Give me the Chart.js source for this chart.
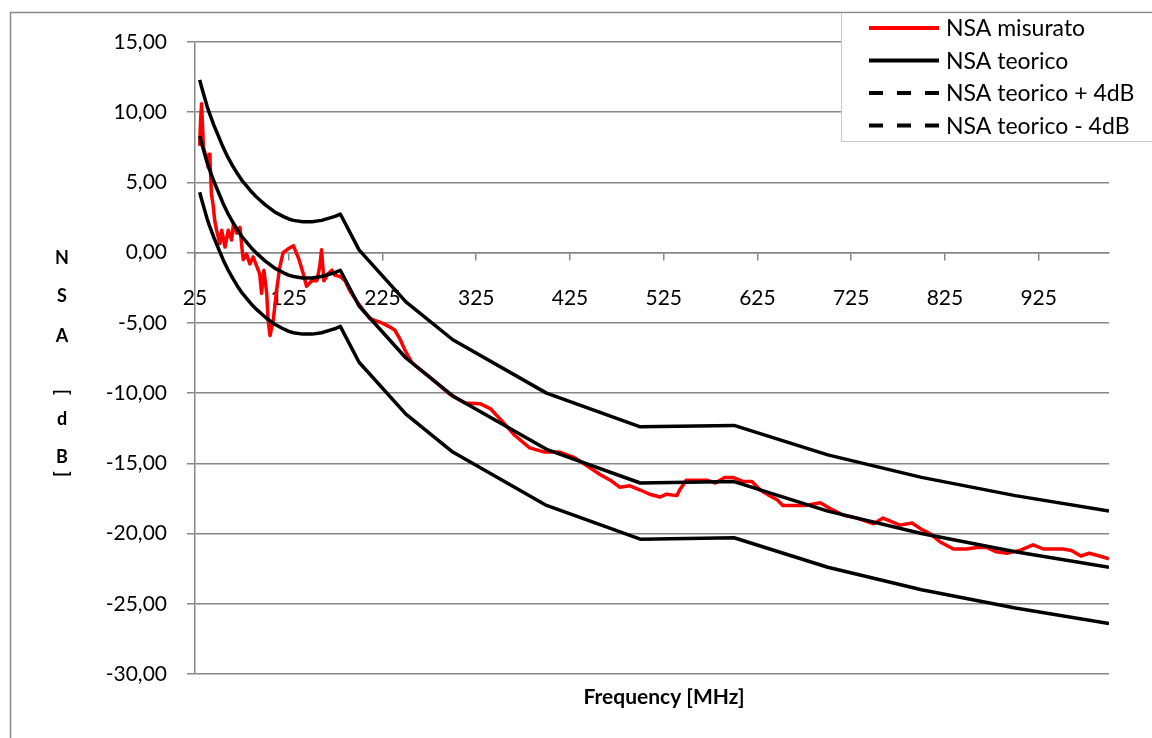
<!DOCTYPE html>
<html>
<head>
<meta charset="utf-8">
<script src="https://cdn.jsdelivr.net/npm/chart.js@4.4.1/dist/chart.umd.min.js"></script>
<style>
body { margin: 0; background: #fff; }
#wrap { width: 1152px; height: 738px; position: relative; }
</style>
</head>
<body>
<div id="wrap"><canvas id="nsa_chart"></canvas></div>
<script>
// frequenze [MHz] della curva teorica
var freq_teorico = [30, 32, 35, 38, 40, 45, 50, 55, 60, 65, 70, 75, 80, 85, 90, 95, 100, 110, 120, 125, 130, 140, 150, 160, 170, 175, 180, 200, 250, 300, 400, 500, 600, 700, 800, 900, 1000];
var nsa_teorico = [8.3, 7.8, 7.1, 6.4, 6.0, 5.1, 4.3, 3.5, 2.8, 2.2, 1.65, 1.15, 0.75, 0.35, 0.0, -0.3, -0.6, -1.1, -1.45, -1.6, -1.7, -1.8, -1.8, -1.7, -1.5, -1.4, -1.25, -3.8, -7.5, -10.2, -14.0, -16.4, -16.3, -18.4, -20.0, -21.3, -22.4];
var nsa_piu4 = [12.3, 11.8, 11.1, 10.4, 10.0, 9.1, 8.3, 7.5, 6.8, 6.2, 5.65, 5.15, 4.75, 4.35, 4.0, 3.7, 3.4, 2.9, 2.55, 2.4, 2.3, 2.2, 2.2, 2.3, 2.5, 2.6, 2.75, 0.2, -3.5, -6.2, -10.0, -12.4, -12.3, -14.4, -16.0, -17.3, -18.4];
var nsa_meno4 = [4.3, 3.8, 3.1, 2.4, 2.0, 1.1, 0.3, -0.5, -1.2, -1.8, -2.35, -2.85, -3.25, -3.65, -4.0, -4.3, -4.6, -5.1, -5.45, -5.6, -5.7, -5.8, -5.8, -5.7, -5.5, -5.4, -5.25, -7.8, -11.5, -14.2, -18.0, -20.4, -20.3, -22.4, -24.0, -25.3, -26.4];

// misura
var freq_misurato = [30, 31, 32, 33, 34, 36, 37.5, 39, 40, 41, 42.5, 44.5, 46, 48, 51.5, 53.5, 57, 60.5, 64, 66, 69.5, 73, 75, 76.5, 80, 83.5, 87, 91, 94, 96, 98.5, 101.5, 103, 105, 108.5, 112, 115.5, 119, 125, 130, 136, 140.5, 144, 149.5, 155, 158, 160, 162.5, 167, 171, 174, 180, 185, 190, 197, 204.5, 211.5, 222, 226, 233, 238, 244, 249, 256, 263, 276, 297, 313, 329, 340, 354, 366, 382, 398, 414, 430, 446, 457, 468, 478, 489, 500, 510, 521, 528, 539, 542, 549, 557, 571, 580, 590, 599, 610, 619, 628, 638, 646, 652, 662, 676, 692, 702, 717, 731, 749, 759, 777, 790, 800, 809, 820, 834, 848, 859, 870, 880, 891, 905, 919, 930, 951, 960, 970, 979, 990, 1000];
var nsa_misurato = [7.6, 9.5, 10.6, 9.0, 7.5, 7.0, 6.8, 6.1, 7.0, 6.6, 4.2, 3.3, 2.3, 1.6, 0.65, 1.6, 0.4, 1.6, 0.9, 2.0, 1.4, 1.8, 0.4, -0.5, -0.1, -0.8, -0.3, -1.0, -1.5, -2.9, -1.25, -2.9, -4.8, -5.9, -4.8, -2.7, -1.0, 0.0, 0.3, 0.5, -0.5, -1.5, -2.4, -2.0, -2.0, -1.0, 0.2, -2.0, -1.5, -1.25, -1.6, -1.7, -2.0, -2.7, -3.4, -4.1, -4.7, -4.95, -5.05, -5.3, -5.5, -6.2, -6.95, -7.8, -8.2, -8.9, -10.1, -10.7, -10.75, -11.1, -12.1, -13.0, -13.9, -14.2, -14.2, -14.6, -15.3, -15.8, -16.2, -16.7, -16.6, -16.9, -17.2, -17.4, -17.2, -17.3, -16.9, -16.2, -16.2, -16.2, -16.4, -16.0, -16.0, -16.3, -16.3, -16.9, -17.3, -17.6, -18.0, -18.0, -18.0, -17.8, -18.2, -18.7, -18.9, -19.3, -18.9, -19.4, -19.25, -19.7, -20.0, -20.6, -21.1, -21.1, -21.0, -21.0, -21.3, -21.4, -21.2, -20.8, -21.1, -21.1, -21.2, -21.6, -21.4, -21.6, -21.8];

var x_ticks = [25, 125, 225, 325, 425, 525, 625, 725, 825, 925];
var y_min = -30, y_max = 15, y_step = 5;

var legend_labels = ["NSA misurato", "NSA teorico", "NSA teorico + 4dB", "NSA teorico - 4dB"];

var GRAY = "#878787";
var FONT = "Lato, 'Open Sans', sans-serif";

function xy(xs, ys) {
    var out = [];
    for (var i = 0; i < xs.length; i++) out.push({ x: xs[i], y: ys[i] });
    return out;
}

function line_ds(label, xs, ys, color, order) {
    return {
        label: label,
        data: xy(xs, ys),
        borderColor: color,
        backgroundColor: color,
        borderWidth: 3.5,
        pointRadius: 0,
        tension: 0,
        borderJoinStyle: "round",
        order: order
    };
}

// cornice esterna del grafico
var frame_plugin = {
    id: "frame",
    beforeDraw: function(chart) {
        var ctx = chart.ctx;
        ctx.save();
        ctx.fillStyle = "#fff";
        ctx.fillRect(0, 0, chart.width, chart.height);
        ctx.strokeStyle = GRAY;
        ctx.lineWidth = 1.5;
        ctx.beginPath();
        ctx.moveTo(10.5, chart.height);
        ctx.lineTo(10.5, 12.5);
        ctx.lineTo(chart.width, 12.5);
        ctx.stroke();
        ctx.restore();
    }
};

// titoli degli assi: "NSA [dB]" in verticale a lettere impilate
var titles_plugin = {
    id: "titles",
    afterDraw: function(chart) {
        var ctx = chart.ctx;
        var area = chart.chartArea;
        ctx.save();
        ctx.fillStyle = "#000";
        ctx.textAlign = "center";
        ctx.textBaseline = "middle";
        ctx.font = "bold 21px " + FONT;
        ctx.fillText("Frequency [MHz]", (area.left + area.right) / 2 + 12, 697);

        ctx.font = "bold 18px " + FONT;
        var chars = [["N", 258], ["S", 296], ["A", 336], ["[", 392], ["d", 419], ["B", 457], ["]", 474]];
        chars.forEach(function(c) {
            ctx.save();
            ctx.translate(62, c[1]);
            if (c[0] == "[" || c[0] == "]") ctx.rotate(Math.PI / 2);
            ctx.fillText(c[0], 0, 0);
            ctx.restore();
        });
        ctx.restore();
    }
};

// legenda in alto a destra con bordo puntinato
var legend_plugin = {
    id: "nsa_legend",
    afterDraw: function(chart) {
        var ctx = chart.ctx;
        var sets = chart.data.datasets;
        ctx.save();
        ctx.fillStyle = "#fff";
        ctx.fillRect(841, 13.5, chart.width - 841, 128);
        ctx.strokeStyle = "#999";
        ctx.lineWidth = 1;
        ctx.setLineDash([1, 1]);
        ctx.beginPath();
        ctx.moveTo(841.5, 13.5);
        ctx.lineTo(841.5, 141.5);
        ctx.lineTo(chart.width, 141.5);
        ctx.stroke();

        var rows = [28, 60.5, 93, 125.5];
        ctx.font = "23px " + FONT;
        ctx.textAlign = "left";
        ctx.textBaseline = "middle";
        for (var i = 0; i < sets.length; i++) {
            ctx.strokeStyle = sets[i].borderColor;
            ctx.lineWidth = 4;
            ctx.setLineDash(i >= 2 ? [14, 14] : []);
            ctx.beginPath();
            ctx.moveTo(869, rows[i]);
            ctx.lineTo(939, rows[i]);
            ctx.stroke();
            ctx.fillStyle = "#000";
            ctx.fillText(sets[i].label, 946, rows[i] + 1);
        }
        ctx.restore();
    }
};

var config = {
    type: "line",
    data: {
        datasets: [
            line_ds(legend_labels[0], freq_misurato, nsa_misurato, "#ff0000", 4),
            line_ds(legend_labels[1], freq_teorico, nsa_teorico, "#000000", 1),
            line_ds(legend_labels[2], freq_teorico, nsa_piu4, "#000000", 2),
            line_ds(legend_labels[3], freq_teorico, nsa_meno4, "#000000", 3)
        ]
    },
    options: {
        responsive: true,
        maintainAspectRatio: false,
        animation: false,
        layout: {
            padding: { left: 0, top: 42, right: 43, bottom: 64 }
        },
        plugins: {
            legend: { display: false },
            tooltip: { enabled: false }
        },
        scales: {
            x: {
                type: "linear",
                min: 25,
                max: 1000,
                position: { y: 0 },
                afterBuildTicks: function(scale) {
                    scale.ticks = x_ticks.map(function(v) { return { value: v }; });
                },
                grid: {
                    drawOnChartArea: false,
                    drawTicks: true,
                    tickLength: 7,
                    color: GRAY,
                    lineWidth: 1.5
                },
                border: { display: true, color: GRAY, width: 1.5 },
                ticks: {
                    color: "#000",
                    padding: 26,
                    maxRotation: 0,
                    autoSkip: false,
                    font: { family: FONT, size: 21 }
                }
            },
            y: {
                min: y_min,
                max: y_max,
                afterFit: function(scale) { scale.width = 195; },
                grid: {
                    color: GRAY,
                    lineWidth: 1.5,
                    drawTicks: true,
                    tickLength: 8
                },
                border: { display: true, color: GRAY, width: 1.5 },
                ticks: {
                    stepSize: y_step,
                    color: "#000",
                    padding: 20,
                    font: { family: FONT, size: 21 },
                    callback: function(v) { return v.toFixed(2).replace(".", ","); }
                }
            }
        }
    },
    plugins: [frame_plugin, titles_plugin, legend_plugin]
};

var nsa_chart = new Chart(document.getElementById("nsa_chart").getContext("2d"), config);
</script>
</body>
</html>
